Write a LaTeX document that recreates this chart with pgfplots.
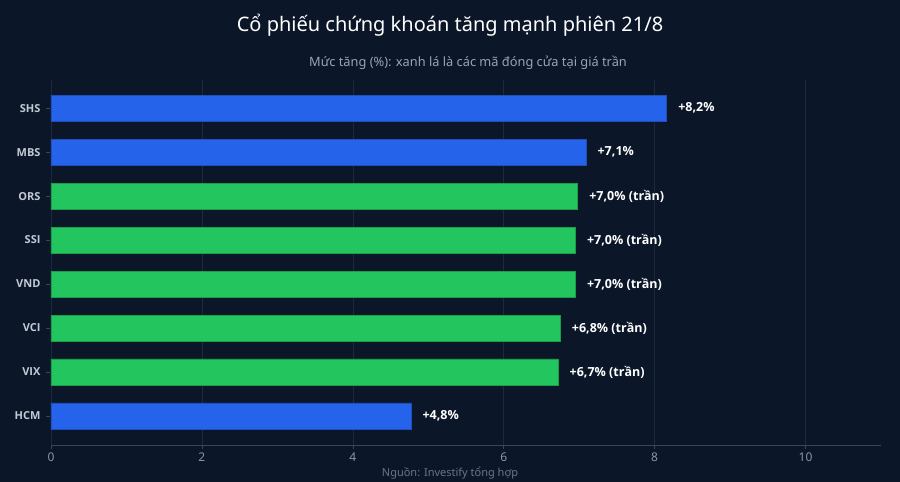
\documentclass[border=0pt]{standalone}
\usepackage{pgfplots}
\pgfplotsset{compat=1.18}
\usepackage{pgfplotstable}
\usepackage{fontspec}
\setmainfont{Noto Sans}
\newfontfamily\labfont{Open Sans}

\definecolor{bg}{HTML}{0B1628}
\definecolor{barblue}{HTML}{2563EB}
\definecolor{bargreen}{HTML}{22C55E}
\definecolor{gridc}{HTML}{1C2A3E}
\definecolor{axisc}{HTML}{3A4658}
\definecolor{ticktxt}{HTML}{8B95A5}
\definecolor{cattxt}{HTML}{C3CAD5}
\definecolor{subtxt}{HTML}{9AA4B2}
\definecolor{srctxt}{HTML}{6B7585}

% y: 0 = HCM (bottom) ... 7 = SHS (top)
\pgfplotstableread[col sep=semicolon]{
y;val;lab
0;4.77;+4,8\%
6;7.09;+7,1\%
7;8.16;+8,2\%
}\blueset
\pgfplotstableread[col sep=semicolon]{
y;val;lab
1;6.72;+6,7\% (trần)
2;6.75;+6,8\% (trần)
3;6.95;+7,0\% (trần)
4;6.95;+7,0\% (trần)
5;6.98;+7,0\% (trần)
}\greenset

\begin{document}
\begin{tikzpicture}[x=1pt,y=1pt]
\fill[bg] (0,0) rectangle (900,482);
\useasboundingbox (0,0) rectangle (900,482);

\node[text=white, font=\fontsize{20}{24}\selectfont] at (450,457) {Cổ phiếu chứng khoán tăng mạnh phiên 21/8};
\node[text=subtxt, font=\fontsize{12.8}{15}\selectfont] at (468,419) {Mức tăng (\%): xanh lá là các mã đóng cửa tại giá trần};
\node[text=srctxt, font=\fontsize{11}{13}\selectfont] at (450,9) {Nguồn: Investify tổng hợp};

\begin{axis}[
  at={(51pt,37pt)}, anchor=south west,
  scale only axis,
  width=830pt, height=365pt,
  xbar, bar width=26pt, bar shift=0pt,
  xmin=0, xmax=11,
  ymin=-0.66, ymax=7.64,
  xtick={0,2,...,10},
  ytick={0,...,7},
  axis x line*=bottom,
  axis y line=none,
  x axis line style={draw=axisc, line width=0.8pt},
  xmajorgrids=true,
  grid style={draw=gridc, line width=0.6pt},
  major x tick style={draw=axisc, line width=0.6pt},
  tick align=outside,
  major tick length=4pt,
  xticklabel style={text=ticktxt, font=\fontsize{12}{14}\selectfont},
  /pgf/number format/assume math mode=true,
  nodes near coords,
  point meta=explicit symbolic,
  nodes near coords style={anchor=west, xshift=8pt, text=white,
    font=\labfont\bfseries\fontsize{12.5}{14}\selectfont},
  clip=false,
]
\addplot[draw=barblue!80!black, fill=barblue, line width=0.6pt]
  table[x=val, y=y, meta=lab] {\blueset};
\addplot[draw=bargreen!80!black, fill=bargreen, line width=0.6pt]
  table[x=val, y=y, meta=lab] {\greenset};
% short tick dashes beside the category names
\pgfplotsinvokeforeach{0,...,7}{
  \draw[axisc, line width=0.7pt] ([xshift=-1pt]axis cs:0,#1) -- ([xshift=-5pt]axis cs:0,#1);
}
\node[anchor=east, text=cattxt, font=\labfont\bfseries\fontsize{11}{13}\selectfont] at ([xshift=-7pt]axis cs:0,0) {HCM};
\node[anchor=east, text=cattxt, font=\labfont\bfseries\fontsize{11}{13}\selectfont] at ([xshift=-7pt]axis cs:0,1) {VIX};
\node[anchor=east, text=cattxt, font=\labfont\bfseries\fontsize{11}{13}\selectfont] at ([xshift=-7pt]axis cs:0,2) {VCI};
\node[anchor=east, text=cattxt, font=\labfont\bfseries\fontsize{11}{13}\selectfont] at ([xshift=-7pt]axis cs:0,3) {VND};
\node[anchor=east, text=cattxt, font=\labfont\bfseries\fontsize{11}{13}\selectfont] at ([xshift=-7pt]axis cs:0,4) {SSI};
\node[anchor=east, text=cattxt, font=\labfont\bfseries\fontsize{11}{13}\selectfont] at ([xshift=-7pt]axis cs:0,5) {ORS};
\node[anchor=east, text=cattxt, font=\labfont\bfseries\fontsize{11}{13}\selectfont] at ([xshift=-7pt]axis cs:0,6) {MBS};
\node[anchor=east, text=cattxt, font=\labfont\bfseries\fontsize{11}{13}\selectfont] at ([xshift=-7pt]axis cs:0,7) {SHS};
\end{axis}
\end{tikzpicture}
\end{document}
